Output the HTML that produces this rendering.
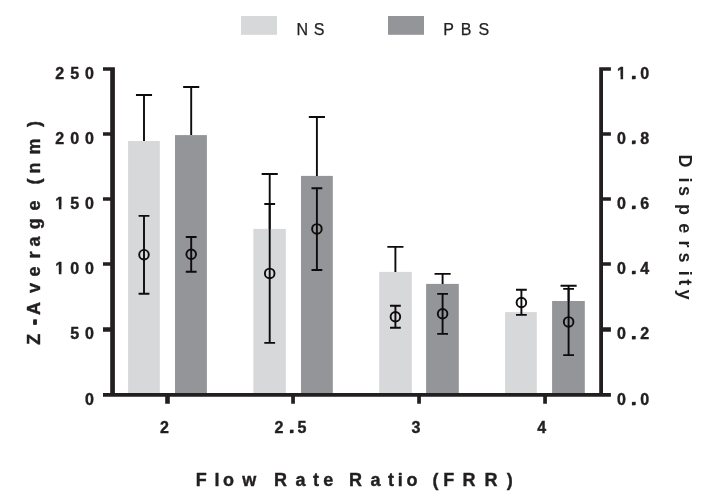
<!DOCTYPE html>
<html><head><meta charset="utf-8"><title>Chart</title>
<style>html,body{margin:0;padding:0;background:#fff;}body{width:714px;height:503px;position:relative;overflow:hidden;font-family:"Liberation Sans",sans-serif;}svg text{font-family:"Liberation Sans",sans-serif;}</style>
</head><body>
<svg width="714" height="503" viewBox="0 0 714 503" style="position:absolute;left:0;top:0;will-change:transform">
<rect width="714" height="503" fill="#fff"/>
<rect x="241" y="16" width="36" height="18.8" fill="#d7d8da"/>
<rect x="388" y="16" width="36" height="18.8" fill="#939598"/>
<rect x="128.1" y="141.0" width="31.7" height="253.9" fill="#d7d8da"/>
<rect x="175.0" y="135.1" width="31.9" height="259.8" fill="#939598"/>
<rect x="253.4" y="228.9" width="32.4" height="166.0" fill="#d7d8da"/>
<rect x="301.0" y="175.9" width="31.8" height="219.0" fill="#939598"/>
<rect x="379.2" y="271.9" width="32.6" height="123.0" fill="#d7d8da"/>
<rect x="426.1" y="283.9" width="32.7" height="111.0" fill="#939598"/>
<rect x="505.1" y="312.1" width="31.7" height="82.8" fill="#d7d8da"/>
<rect x="552.1" y="301.0" width="32.7" height="93.9" fill="#939598"/>
<g stroke="#0d0b0c" stroke-width="1.9" fill="none">
<path d="M144.0 141.0V95.0M135.95 95.0H152.05"/>
<path d="M144.0 215.9V293.8M138.6 215.9H149.4M138.6 293.8H149.4"/>
<circle cx="144.0" cy="254.7" r="4.8" stroke-width="1.9"/>
<path d="M191.2 135.1V87.0M183.15 87.0H199.25"/>
<path d="M191.2 237.0V271.8M185.8 237.0H196.6M185.8 271.8H196.6"/>
<circle cx="191.2" cy="254.3" r="4.8" stroke-width="1.9"/>
<path d="M269.7 228.9V174.0M261.65 174.0H277.75"/>
<path d="M269.7 204.0V342.9M264.3 204.0H275.1M264.3 342.9H275.1"/>
<circle cx="269.7" cy="273.4" r="4.8" stroke-width="1.9"/>
<path d="M316.9 175.9V117.0M308.85 117.0H324.95"/>
<path d="M316.9 188.2V270.0M311.5 188.2H322.3M311.5 270.0H322.3"/>
<circle cx="316.9" cy="228.9" r="4.8" stroke-width="1.9"/>
<path d="M395.4 271.9V246.9M387.35 246.9H403.45"/>
<path d="M395.4 305.8V327.7M390.0 305.8H400.8M390.0 327.7H400.8"/>
<circle cx="395.4" cy="316.8" r="4.8" stroke-width="1.9"/>
<path d="M442.6 283.9V273.9M434.55 273.9H450.65"/>
<path d="M442.6 293.9V333.9M437.2 293.9H448.0M437.2 333.9H448.0"/>
<circle cx="442.6" cy="313.8" r="4.8" stroke-width="1.9"/>
<path d="M521.4 289.8V314.9M516.0 289.8H526.8M516.0 314.9H526.8"/>
<circle cx="521.4" cy="302.5" r="4.8" stroke-width="1.9"/>
<path d="M568.6 301.0V285.8M560.55 285.8H576.65"/>
<path d="M568.6 288.9V355.1M563.2 288.9H574.0M563.2 355.1H574.0"/>
<circle cx="568.6" cy="321.9" r="4.8" stroke-width="1.9"/>
</g>
<path fill="#231f20" fill-rule="nonzero" d="M110.20 67.20h4.70v329.60h-4.70zM599.20 67.20h3.80v329.60h-3.80zM103.00 393.00h507.90v3.80h-507.90zM103.00 327.20h9.00v4.50h-9.00zM601.00 327.20h9.90v4.50h-9.90zM103.00 262.20h9.00v3.60h-9.00zM601.00 262.20h9.90v3.60h-9.90zM103.00 197.20h9.00v3.60h-9.00zM601.00 197.20h9.90v3.60h-9.90zM103.00 132.20h9.00v3.60h-9.00zM601.00 132.20h9.90v3.60h-9.90zM103.00 67.20h9.00v3.50h-9.00zM601.00 67.20h9.90v3.50h-9.90zM165.20 394.00h4.60v9.70h-4.60zM291.20 394.00h3.70v9.70h-3.70zM417.20 394.00h3.70v9.70h-3.70zM543.20 394.00h3.70v9.70h-3.70z"/>
<g fill="#231f20" font-family="Liberation Sans, sans-serif" font-weight="bold" font-size="16" letter-spacing="6" stroke="#231f20" stroke-width="0.4" stroke-linejoin="round">
<text x="85.10" y="404.5" letter-spacing="0">0</text>
<text x="70.20 85.10" y="339.3" letter-spacing="0">50</text>
<text x="55.31 70.20 85.10" y="274.1" letter-spacing="0">100</text>
<text x="55.31 70.20 85.10" y="209.0" letter-spacing="0">150</text>
<text x="55.31 70.20 85.10" y="143.8" letter-spacing="0">200</text>
<text x="55.31 70.20 85.10" y="78.6" letter-spacing="0">250</text>
<text x="617 631.1 640.2" y="405.0" letter-spacing="0">0.0</text>
<text x="617 631.1 640.2" y="339.1" letter-spacing="0">0.2</text>
<text x="617 631.1 640.2" y="273.9" letter-spacing="0">0.4</text>
<text x="617 631.1 640.2" y="208.8" letter-spacing="0">0.6</text>
<text x="617 631.1 640.2" y="143.6" letter-spacing="0">0.8</text>
<text x="617 631.1 640.2" y="78.9" letter-spacing="0">1.0</text>
<text x="160.05" y="432.8" letter-spacing="0">2</text>
<text x="274.5 289.0 297.4" y="432.8" letter-spacing="0">2.5</text>
<text x="411.45" y="432.8" letter-spacing="0">3</text>
<text x="537.15" y="432.8" letter-spacing="0">4</text>
<rect x="632.20" y="401.85" width="3.5" height="3.3" stroke="none"/>
<rect x="632.20" y="335.97" width="3.5" height="3.3" stroke="none"/>
<rect x="632.20" y="270.79" width="3.5" height="3.3" stroke="none"/>
<rect x="632.20" y="205.61" width="3.5" height="3.3" stroke="none"/>
<rect x="632.20" y="140.43" width="3.5" height="3.3" stroke="none"/>
<rect x="632.20" y="75.75" width="3.5" height="3.3" stroke="none"/>
<rect x="290.10" y="429.65" width="3.5" height="3.3" stroke="none"/>
</g>
<path fill="#fff" d="M54.70 271.64H58.83V275.24H54.70zM61.43 271.64H64.50V275.24H61.43zM54.70 206.46H58.83V210.06H54.70zM61.43 206.46H64.50V210.06H61.43zM616.40 76.40H620.53V80.00H616.40zM623.13 76.40H626.20V80.00H623.13z"/>
<g fill="#231f20" font-family="Liberation Sans, sans-serif" font-size="16" stroke="#231f20" stroke-width="0.25">
<text x="296.4" y="34.7" letter-spacing="5.9">NS</text>
<text x="443.3" y="34.7" letter-spacing="6.9">PBS</text>
</g>
<g fill="#231f20" font-family="Liberation Sans, sans-serif" font-weight="bold" font-size="18" stroke="#231f20" stroke-width="0.4" stroke-linejoin="round">
<text x="195.68 214.46 223.05 242.26 250.26 273.88 295.57 313.00 323.25 331.25 348.88 370.57 388.00 397.66 406.45 414.45 432.46 443.28 462.48 484.48 506.74" y="485.8">Flow Rate Ratio (FRR)</text>
<text transform="translate(40.0 346.0) rotate(-90)" x="1.34 20.76 30.96 53.00 69.60 87.54 99.62 116.69 135.50 143.50 161.41 172.47 191.41 219.09" y="0">Z-Average (nm)</text>
<rect x="33.2" y="319.4" width="3.7" height="5.2" stroke="none"/>
<text stroke="none" transform="translate(679.2 150.0) rotate(90)" x="4.58 27.51 35.95 53.93 73.15 90.54 102.55 120.81 129.30 139.57" y="0">Dispersity</text>
</g>
</svg>
</body></html>
